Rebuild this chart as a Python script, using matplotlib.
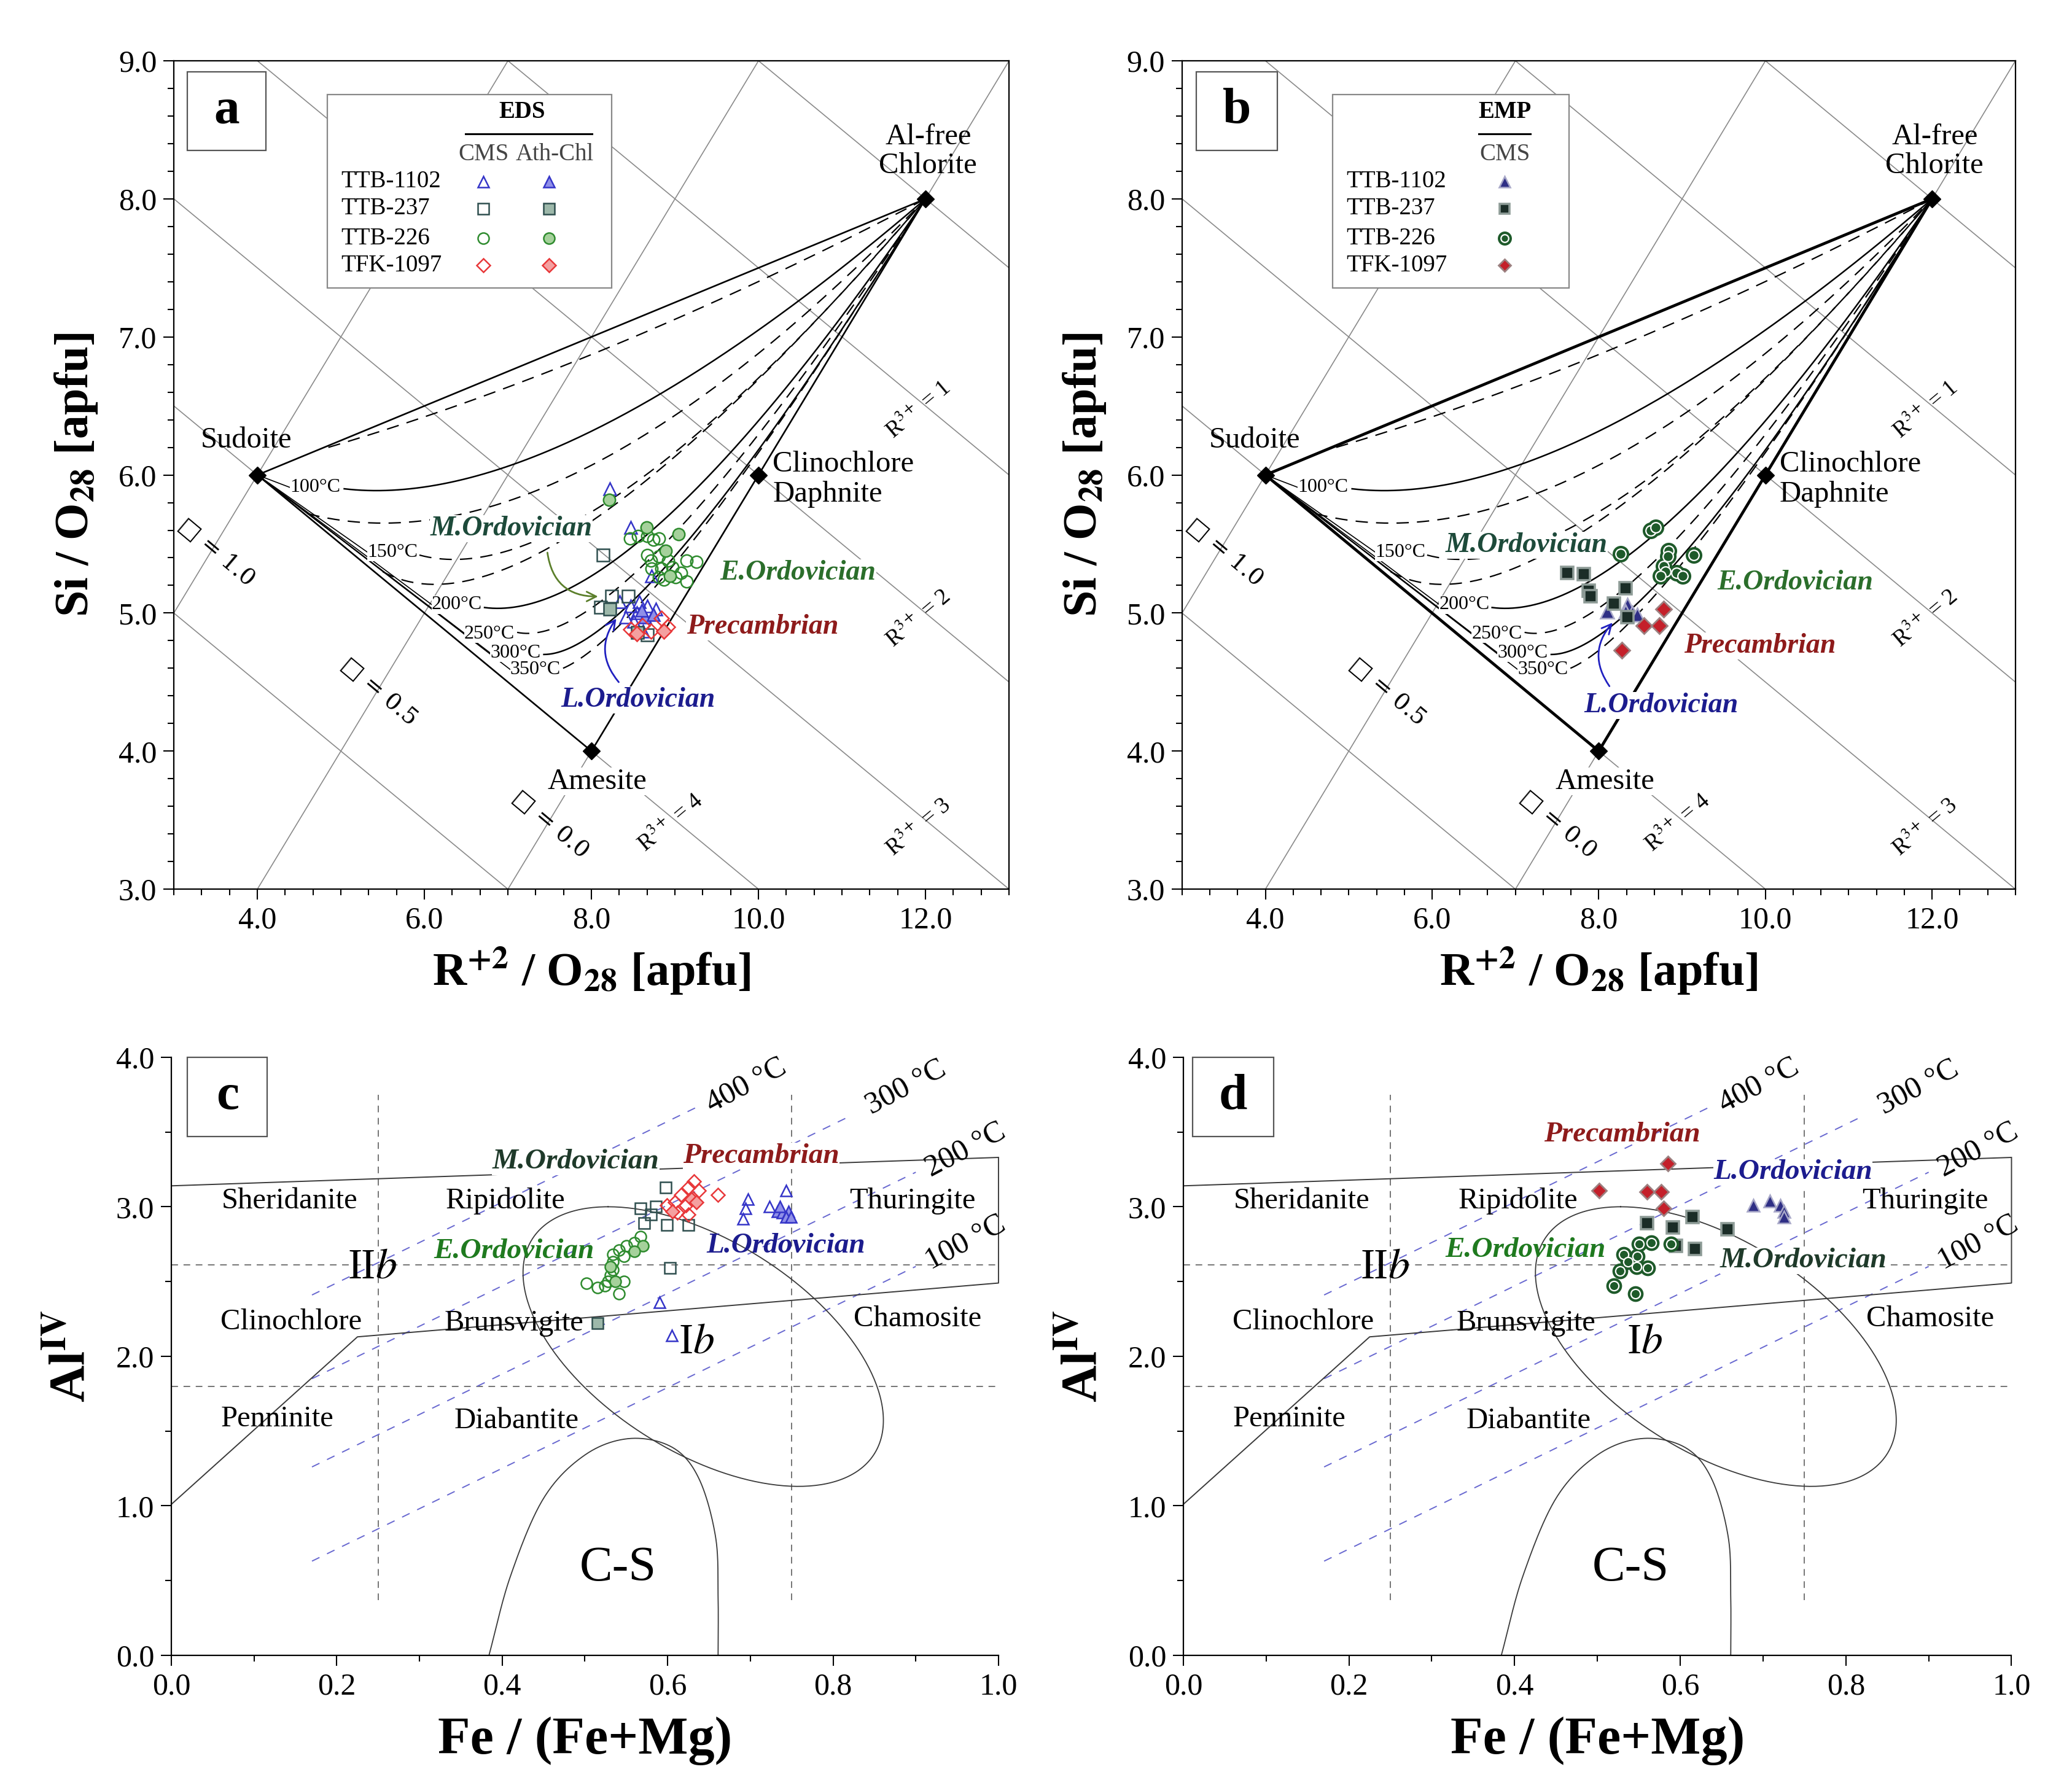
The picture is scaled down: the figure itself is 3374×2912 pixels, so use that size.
import matplotlib
matplotlib.use('Agg')
import matplotlib.pyplot as plt
import numpy as np
from matplotlib.ticker import MultipleLocator, AutoMinorLocator, FormatStrFormatter
from matplotlib.patches import Rectangle

plt.rcParams['font.family'] = ['Liberation Serif', 'DejaVu Serif']
plt.rcParams['mathtext.fontset'] = 'stix'

# ---------------- data: panel a (EDS)  R2+ vs Si ----------------
a_tri_cms_x = [8.22, 8.47, 8.72, 8.34, 8.47, 8.57, 8.67, 8.77, 8.54, 8.41, 8.51, 8.62]
a_tri_cms_y = [5.90, 5.62, 5.27, 5.08, 5.05, 5.08, 5.05, 5.03, 5.00, 4.97, 4.94, 4.87]
a_tri_ath_x = [8.64, 8.74, 8.60]
a_tri_ath_y = [4.97, 4.99, 5.02]
a_sq_cms_x = [8.14, 8.24, 8.44, 8.11, 8.67]
a_sq_cms_y = [5.42, 5.12, 5.12, 5.04, 4.84]
a_sq_ath_x = [8.22, 8.55]
a_sq_ath_y = [5.03, 4.86]
a_cir_cms_x = [8.46, 8.56, 8.67, 8.74, 8.81, 8.67, 8.71, 8.81, 8.92, 8.97, 8.84, 8.72,
               8.81, 9.07, 9.14, 9.26, 9.14, 9.01, 8.87]
a_cir_cms_y = [5.54, 5.56, 5.56, 5.53, 5.54, 5.42, 5.38, 5.41, 5.38, 5.33, 5.32, 5.32,
               5.26, 5.29, 5.38, 5.37, 5.23, 5.26, 5.24]
a_cir_ath_x = [8.21, 8.66, 9.04, 8.89, 8.94]
a_cir_ath_y = [5.82, 5.62, 5.57, 5.45, 5.27]
a_dia_cms_x = [8.47, 8.61, 8.84, 8.91, 8.71]
a_dia_cms_y = [4.88, 4.91, 4.96, 4.90, 4.87]
a_dia_ath_x = [8.87, 8.54]
a_dia_ath_y = [4.87, 4.85]

# ---------------- data: panel b (EMP) ----------------
b_tri_x = [8.10, 8.34, 8.40, 8.46, 8.32]
b_tri_y = [5.01, 5.06, 5.00, 4.99, 5.01]
b_sq_x = [7.62, 7.82, 7.88, 7.90, 8.32, 8.18, 8.34]
b_sq_y = [5.29, 5.28, 5.16, 5.12, 5.18, 5.07, 4.97]
b_cir_x = [8.62, 8.68, 8.26, 8.84, 8.83, 9.14, 8.78, 8.80, 8.93, 9.01, 8.74]
b_cir_y = [5.60, 5.62, 5.43, 5.45, 5.41, 5.42, 5.34, 5.30, 5.29, 5.27, 5.27]
b_dia_x = [8.78, 8.54, 8.73, 8.28]
b_dia_y = [5.03, 4.91, 4.91, 4.73]

# ---------------- data: panel c (EDS)  Fe/(Fe+Mg) vs AlIV ----------------
c_tri_cms_x = [0.697, 0.694, 0.691, 0.743, 0.723, 0.590, 0.605]
c_tri_cms_y = [3.05, 2.99, 2.92, 3.11, 3.00, 2.36, 2.14]
c_tri_ath_x = [0.733, 0.739, 0.746, 0.743, 0.736, 0.749]
c_tri_ath_y = [2.97, 2.96, 2.97, 2.93, 3.00, 2.93]
c_sq_cms_x = [0.598, 0.567, 0.586, 0.580, 0.572, 0.599, 0.625, 0.603]
c_sq_cms_y = [3.13, 2.99, 3.00, 2.95, 2.89, 2.88, 2.88, 2.59]
c_sq_ath_x = [0.515]
c_sq_ath_y = [2.22]
c_cir_cms_x = [0.567, 0.560, 0.550, 0.541, 0.534, 0.547, 0.534, 0.534, 0.531, 0.528,
               0.502, 0.515, 0.524, 0.547, 0.541]
c_cir_cms_y = [2.80, 2.76, 2.74, 2.71, 2.68, 2.67, 2.63, 2.58, 2.54, 2.50,
               2.49, 2.46, 2.47, 2.50, 2.42]
c_cir_ath_x = [0.570, 0.560, 0.537, 0.531]
c_cir_ath_y = [2.74, 2.70, 2.50, 2.60]
c_dia_cms_x = [0.632, 0.625, 0.638, 0.616, 0.609, 0.622, 0.599, 0.612, 0.625, 0.661]
c_dia_cms_y = [3.17, 3.13, 3.11, 3.08, 3.03, 3.01, 3.01, 2.96, 2.95, 3.08]
c_dia_ath_x = [0.629, 0.635, 0.606]
c_dia_ath_y = [3.05, 3.03, 2.97]

# ---------------- data: panel d (EMP) ----------------
d_tri_x = [0.688, 0.708, 0.721, 0.725, 0.725]
d_tri_y = [3.01, 3.04, 3.01, 2.97, 2.93]
d_sq_x = [0.560, 0.591, 0.615, 0.657, 0.595, 0.618]
d_sq_y = [2.89, 2.86, 2.93, 2.85, 2.74, 2.72]
d_cir_x = [0.550, 0.565, 0.589, 0.532, 0.548, 0.537, 0.547, 0.561, 0.527, 0.520, 0.546]
d_cir_y = [2.75, 2.76, 2.75, 2.68, 2.67, 2.63, 2.60, 2.59, 2.57, 2.47, 2.42]
d_dia_x = [0.585, 0.502, 0.560, 0.577, 0.580]
d_dia_y = [3.29, 3.11, 3.10, 3.10, 2.99]

# end members of the R2+-Si diagram
end_x = [4.0, 8.0, 10.0, 12.0]
end_y = [6.0, 4.0, 6.0, 8.0]
r3_values = [0, 1, 2, 3, 4, 5]
vac_values = [0.0, 0.5, 1.0]
samples = ['TTB-1102', 'TTB-237', 'TTB-226', 'TFK-1097']
iso_temps = ['100°C', '150°C', '200°C', '250°C', '300°C', '350°C']
bottom_temps = ['400 °C', '300 °C', '200 °C', '100 °C']

EDS_STYLE = {'tri': ('^', '#3535C8', '#8F8FE8'),
             'sq': ('s', '#2F4F4F', '#9DB8AA'),
             'cir': ('o', '#2E8B2E', '#A5D19B'),
             'dia': ('D', '#E8383A', '#F4A0A0')}
KINDS = ['tri', 'sq', 'cir', 'dia']
C_MORD, C_EORD, C_PREC, C_LORD = '#1D4A3A', '#2B6E2B', '#8E1B1B', '#1C1C8E'


def eds(ax, x, y, kind, filled, ms=14, trans=None, z=6):
    m, ec, fc = EDS_STYLE[kind]
    kw = {} if trans is None else {'transform': trans}
    if kind == 'dia':
        ms = ms - 2
    ax.plot(x, y, m, ls='none', ms=ms, mfc=fc if filled else 'none', mec=ec,
            mew=1.8, zorder=z, clip_on=False, **kw)


def emp(ax, x, y, kind, ms=16, trans=None, z=6):
    kw = {} if trans is None else {'transform': trans}
    if kind == 'tri':
        ax.plot(x, y, '^', ls='none', ms=ms, mfc='#2F2F85', mec='#A8A8C8', mew=1.8, zorder=z, **kw)
    elif kind == 'sq':
        ax.plot(x, y, 's', ls='none', ms=ms - 1, mfc='#1B2D27', mec='#8E9C97', mew=2.6, zorder=z, **kw)
    elif kind == 'cir':
        ax.plot(x, y, 'o', ls='none', ms=ms + 2, mfc='#1E5A2A', mec='#1E5A2A', mew=1.5, zorder=z, **kw)
        ax.plot(x, y, 'o', ls='none', ms=ms - 4, mfc='#1E5A2A', mec='white', mew=1.6, zorder=z, **kw)
    else:
        ax.plot(x, y, 'D', ls='none', ms=ms - 3, mfc='#C4202A', mec='#9C8080', mew=2.0, zorder=z, **kw)


def bezier(x0, y0, xc, yc, x1=12.0, y1=8.0, n=150):
    t = np.linspace(0, 1, n)
    x = (1 - t) ** 2 * x0 + 2 * t * (1 - t) * xc + t ** 2 * x1
    y = (1 - t) ** 2 * y0 + 2 * t * (1 - t) * yc + t ** 2 * y1
    return x, y


def catmull(xs, ys, n=25):
    pts = np.column_stack([xs, ys])
    pad = np.vstack([2 * pts[0] - pts[1], pts, 2 * pts[-1] - pts[-2]])
    out = []
    t = np.linspace(0, 1, n, endpoint=False)[:, None]
    for i in range(1, len(pad) - 2):
        p0, p1, p2, p3 = pad[i - 1], pad[i], pad[i + 1], pad[i + 2]
        out.append(0.5 * (2 * p1 + (-p0 + p2) * t + (2 * p0 - 5 * p1 + 4 * p2 - p3) * t ** 2
                          + (-p0 + 3 * p1 - 3 * p2 + p3) * t ** 3))
    out.append(pts[-1:])
    out = np.vstack(out)
    return out[:, 0], out[:, 1]


def panel_box(ax, letter, x0, y0, w, h):
    ax.add_patch(Rectangle((x0, y0), w, h, transform=ax.transAxes, fc='white',
                           ec='#555555', lw=1.6, zorder=7, clip_on=False))
    ax.text(x0 + w / 2, y0 + h / 2, letter, transform=ax.transAxes, ha='center', va='center',
            fontsize=60, fontweight='bold', zorder=8)


def age_label(ax, x, y, s, color, bg=True, fs=33):
    kw = dict(bbox=dict(fc='white', ec='none', pad=0.5)) if bg else {}
    ax.text(x, y, s, color=color, fontsize=fs, fontstyle='italic', fontweight='bold',
            ha='center', va='center', zorder=5, **kw)


def draw_top(ax, heavy):
    ax.set_xlim(3, 13)
    ax.set_ylim(3, 9)
    xx = np.array([3.0, 13.0])
    for r in r3_values:
        ax.plot(xx, 14 - 1.5 * r - 0.5 * xx, color='#8a8a8a', lw=1.2, zorder=1)
    for v in vac_values:
        ax.plot(xx, xx - 4 + 6 * v, color='#8a8a8a', lw=1.2, zorder=1)
    # isotherm family converging on Al-free chlorite
    curves = [(4.85, 6.20, 8.2, 6.80, False),
              (5.04, 5.90, 7.6, 5.72, True),
              (4.60, 5.72, 7.6, 5.25, False),
              (5.94, 5.42, 7.9, 5.10, False),
              (5.50, 5.30, 7.3, 4.70, False),
              (6.72, 5.04, 8.5, 4.90, True),
              (7.11, 4.86, 8.4, 4.70, False),
              (7.43, 4.70, 8.6, 4.70, True),
              (7.66, 4.60, 8.8, 4.90, False)]
    for x0, y0, xc, yc, solid in curves:
        cx, cy = bezier(x0, y0, xc, yc)
        if solid:
            ax.plot(cx, cy, color='black', lw=1.8, zorder=2)
        else:
            ax.plot(cx, cy, color='black', lw=1.6, dashes=(9, 6), zorder=2)
    lab_x = [4.69, 5.62, 6.39, 6.78, 7.09, 7.33]
    lab_y = [5.91, 5.44, 5.06, 4.85, 4.71, 4.59]
    for s, lx, ly in zip(iso_temps, lab_x, lab_y):
        ax.plot([4.0, lx - 0.30], [6.0, ly], color='black', lw=1.2, zorder=2)
        ax.text(lx, ly, s, fontsize=23, ha='center', va='center', zorder=4,
                bbox=dict(fc='white', ec='none', pad=0.3))
    lw = 3.4 if heavy else 1.9
    ax.plot([end_x[0], end_x[3]], [end_y[0], end_y[3]], color='black', lw=lw, zorder=3)
    ax.plot([end_x[0], end_x[1]], [end_y[0], end_y[1]], color='black', lw=lw, zorder=3)
    ax.plot([end_x[1], end_x[3]], [end_y[1], end_y[3]], color='black', lw=lw, zorder=3)
    ax.plot(end_x, end_y, 'D', ls='none', color='black', ms=14, zorder=4)
    ax.text(3.87, 6.25, 'Sudoite', fontsize=35, ha='center', va='center')
    ax.text(8.07, 3.78, 'Amesite', fontsize=35, ha='center', va='center', zorder=4,
            bbox=dict(fc='white', ec='none', pad=0.2))
    ax.text(10.17, 6.08, 'Clinochlore', fontsize=35, ha='left', va='center')
    ax.text(10.17, 5.86, 'Daphnite', fontsize=35, ha='left', va='center')
    ax.text(12.03, 8.45, 'Al-free', fontsize=35, ha='center', va='center')
    ax.text(12.03, 8.24, 'Chlorite', fontsize=35, ha='center', va='center')
    for i, (rx, ry) in enumerate([(11.92, 6.47), (11.92, 4.96), (11.92, 3.45), (8.95, 3.48)]):
        ax.text(rx, ry, r'R$^{3+}$ = %d' % (i + 1), fontsize=27, rotation=40,
                ha='center', va='center', rotation_mode='anchor')
    for v, (vx, vy) in zip([1.0, 0.5, 0.0], [(3.51, 5.44), (5.46, 4.43), (7.51, 3.47)]):
        ax.text(vx, vy, '\u25a1 = %.1f' % v, fontsize=27, rotation=-40,
                ha='center', va='center', rotation_mode='anchor',
                family=['DejaVu Serif', 'Liberation Serif'])
    ax.xaxis.set_major_locator(MultipleLocator(2))
    ax.xaxis.set_minor_locator(AutoMinorLocator(6))
    ax.yaxis.set_major_locator(MultipleLocator(1))
    ax.yaxis.set_minor_locator(AutoMinorLocator(5))
    ax.xaxis.set_major_formatter(FormatStrFormatter('%.1f'))
    ax.yaxis.set_major_formatter(FormatStrFormatter('%.1f'))
    ax.set_xlabel(r'R$^{\mathbf{+2}}$ / O$_{\mathbf{28}}$ [apfu]', fontsize=55,
                  fontweight='bold', labelpad=12)
    ax.set_ylabel(r'Si / O$_{\mathbf{28}}$ [apfu]', fontsize=56, fontweight='bold', labelpad=22)


def draw_bottom(ax, ib_x):
    ax.set_xlim(0, 1)
    ax.set_ylim(0, 4)
    lc = '#3a3a3a'
    ax.plot([0, 1.0], [3.14, 3.33], color=lc, lw=1.4, zorder=2)
    ax.plot([1.0, 1.0, 0.225, 0.0], [3.33, 2.49, 2.13, 1.01], color=lc, lw=1.4,
            zorder=2, clip_on=False)
    for xv in (0.25, 0.75):
        ax.plot([xv, xv], [0.37, 3.75], color='#6a6a6a', lw=1.3, dashes=(6, 5), zorder=1)
    for yv in (2.61, 1.80):
        ax.plot([0, 1], [yv, yv], color='#6a6a6a', lw=1.3, dashes=(6, 5), zorder=1)
    th = np.linspace(0, 2 * np.pi, 300)
    ax.plot(0.643 - 0.115 * np.cos(th) + 0.185 * np.sin(th), 2.065 + 0.935 * np.cos(th),
            color=lc, lw=1.3, zorder=2)
    csx, csy = catmull([0.384, 0.41, 0.45, 0.50, 0.554, 0.606, 0.638, 0.658, 0.661, 0.661],
                       [0.0, 0.53, 1.05, 1.34, 1.45, 1.39, 1.18, 0.79, 0.39, 0.0])
    ax.plot(csx, csy, color=lc, lw=1.3, zorder=2)
    # temperature lines
    starts = [2.41, 1.85, 1.26, 0.63]
    ends = [0.64, 0.82, 0.90, 0.90]
    lab = [(0.695, 3.81), (0.888, 3.80), (0.960, 3.38), (0.960, 2.76)]
    for s, y0, xe, (tx, ty) in zip(bottom_temps, starts, ends, lab):
        ax.plot([0.17, xe], [y0, y0 + 2.7 * (xe - 0.17)], color='#6868D0', lw=1.4,
                dashes=(7, 7), zorder=1)
        ax.text(tx, ty, s, fontsize=36, rotation=28, ha='center', va='center',
                rotation_mode='anchor', zorder=4)
    for s, x, y in [('Sheridanite', 0.143, 3.04), ('Ripidolite', 0.404, 3.04),
                    ('Thuringite', 0.896, 3.04), ('Clinochlore', 0.145, 2.23),
                    ('Brunsvigite', 0.414, 2.22), ('Chamosite', 0.902, 2.25),
                    ('Penninite', 0.128, 1.58), ('Diabantite', 0.417, 1.57)]:
        ax.text(x, y, s, fontsize=35, ha='center', va='center', zorder=3)
    ax.text(0.243, 2.59, r'II$\mathit{b}$', fontsize=50, ha='center', va='center', zorder=3)
    ax.text(ib_x, 2.09, r'I$\mathit{b}$', fontsize=50, ha='center', va='center', zorder=3)
    ax.text(0.54, 0.58, 'C-S', fontsize=58, ha='center', va='center', zorder=3)
    for sp in ('top', 'right'):
        ax.spines[sp].set_visible(False)
    ax.xaxis.set_major_locator(MultipleLocator(0.2))
    ax.xaxis.set_minor_locator(MultipleLocator(0.1))
    ax.yaxis.set_major_locator(MultipleLocator(1))
    ax.yaxis.set_minor_locator(MultipleLocator(0.5))
    ax.xaxis.set_major_formatter(FormatStrFormatter('%.1f'))
    ax.yaxis.set_major_formatter(FormatStrFormatter('%.1f'))
    ax.set_xlabel('Fe / (Fe+Mg)', fontsize=62, fontweight='bold', labelpad=18)
    ax.set_ylabel(r'Al$^{\mathbf{IV}}$', fontsize=60, fontweight='bold', labelpad=24)


def style_ticks(ax):
    ax.tick_params(which='both', direction='out', width=1.5, labelsize=36, pad=8,
                   top=False, right=False)
    ax.tick_params(which='major', length=12)
    ax.tick_params(which='minor', length=7)
    for sp in ax.spines.values():
        sp.set_linewidth(1.6)


fig = plt.figure(figsize=(33.74, 29.12), dpi=100)
ax_a = fig.add_axes([0.0839, 0.5027, 0.4031, 0.4633])
ax_b = fig.add_axes([0.5705, 0.5027, 0.4022, 0.4633])
ax_c = fig.add_axes([0.0827, 0.0742, 0.3992, 0.3345])
ax_d = fig.add_axes([0.5711, 0.0742, 0.3997, 0.3345])

# ---------------- panel a ----------------
draw_top(ax_a, heavy=False)
for kind, xs, ys, f in [('tri', a_tri_cms_x, a_tri_cms_y, False), ('tri', a_tri_ath_x, a_tri_ath_y, True),
                        ('sq', a_sq_cms_x, a_sq_cms_y, False), ('sq', a_sq_ath_x, a_sq_ath_y, True),
                        ('cir', a_cir_cms_x, a_cir_cms_y, False), ('cir', a_cir_ath_x, a_cir_ath_y, True),
                        ('dia', a_dia_cms_x, a_dia_cms_y, False), ('dia', a_dia_ath_x, a_dia_ath_y, True)]:
    eds(ax_a, xs, ys, kind, f)
age_label(ax_a, 7.04, 5.61, 'M.Ordovician', C_MORD)
age_label(ax_a, 10.47, 5.29, 'E.Ordovician', C_EORD)
age_label(ax_a, 10.05, 4.90, 'Precambrian', C_PREC)
age_label(ax_a, 8.56, 4.37, 'L.Ordovician', C_LORD)
ax_a.annotate('', xy=(8.10, 5.12), xytext=(7.47, 5.45), zorder=5,
              arrowprops=dict(arrowstyle='->', color='#5B7F2B', lw=2,
                              connectionstyle='arc3,rad=0.45', mutation_scale=28))
ax_a.annotate('', xy=(8.31, 4.97), xytext=(8.34, 4.49), zorder=5,
              arrowprops=dict(arrowstyle='->', color='#2020C0', lw=2,
                              connectionstyle='arc3,rad=-0.4', mutation_scale=28))
# legend a
ax_a.add_patch(Rectangle((0.184, 0.7255), 0.340, 0.234, transform=ax_a.transAxes,
                         fc='white', ec='#888888', lw=1.6, zorder=6))
ax_a.text(0.417, 0.938, 'EDS', transform=ax_a.transAxes, fontsize=28, fontweight='bold',
          ha='center', va='center', zorder=7)
ax_a.plot([0.349, 0.501], [0.912, 0.912], transform=ax_a.transAxes, color='black', lw=2.2, zorder=7)
ax_a.text(0.3706, 0.887, 'CMS', transform=ax_a.transAxes, fontsize=28, color='#444444',
          ha='center', va='center', zorder=7)
ax_a.text(0.456, 0.887, 'Ath-Chl', transform=ax_a.transAxes, fontsize=28, color='#444444',
          ha='center', va='center', zorder=7)
for s, kind, fy in zip(samples, KINDS, [0.854, 0.8215, 0.7856, 0.753]):
    ax_a.text(0.2003, fy, s, transform=ax_a.transAxes, fontsize=28, ha='left', va='center', zorder=7)
    eds(ax_a, [0.3706], [fy], kind, False, ms=13, trans=ax_a.transAxes, z=8)
    eds(ax_a, [0.4495], [fy], kind, True, ms=13, trans=ax_a.transAxes, z=8)
panel_box(ax_a, 'a', 0.016, 0.892, 0.094, 0.095)

# ---------------- panel b ----------------
draw_top(ax_b, heavy=True)
for kind, xs, ys in [('tri', b_tri_x, b_tri_y), ('sq', b_sq_x, b_sq_y),
                     ('cir', b_cir_x, b_cir_y), ('dia', b_dia_x, b_dia_y)]:
    emp(ax_b, xs, ys, kind)
age_label(ax_b, 7.13, 5.49, 'M.Ordovician', C_MORD)
age_label(ax_b, 10.36, 5.22, 'E.Ordovician', C_EORD)
age_label(ax_b, 9.93, 4.76, 'Precambrian', C_PREC)
age_label(ax_b, 8.75, 4.33, 'L.Ordovician', C_LORD)
ax_b.annotate('', xy=(8.18, 4.94), xytext=(8.14, 4.46), zorder=5,
              arrowprops=dict(arrowstyle='->', color='#2020C0', lw=2,
                              connectionstyle='arc3,rad=-0.4', mutation_scale=28))
ax_b.add_patch(Rectangle((0.181, 0.7255), 0.2835, 0.234, transform=ax_b.transAxes,
                         fc='white', ec='#888888', lw=1.6, zorder=6))
ax_b.text(0.387, 0.938, 'EMP', transform=ax_b.transAxes, fontsize=28, fontweight='bold',
          ha='center', va='center', zorder=7)
ax_b.plot([0.356, 0.418], [0.912, 0.912], transform=ax_b.transAxes, color='black', lw=2.2, zorder=7)
ax_b.text(0.387, 0.887, 'CMS', transform=ax_b.transAxes, fontsize=28, color='#444444',
          ha='center', va='center', zorder=7)
for s, kind, fy in zip(samples, KINDS, [0.854, 0.8215, 0.7856, 0.753]):
    ax_b.text(0.197, fy, s, transform=ax_b.transAxes, fontsize=28, ha='left', va='center', zorder=7)
    emp(ax_b, [0.387], [fy], kind, ms=13, trans=ax_b.transAxes, z=8)
panel_box(ax_b, 'b', 0.017, 0.892, 0.097, 0.095)

# ---------------- panel c ----------------
draw_bottom(ax_c, 0.635)
for kind, xs, ys, f in [('tri', c_tri_cms_x, c_tri_cms_y, False), ('tri', c_tri_ath_x, c_tri_ath_y, True),
                        ('sq', c_sq_cms_x, c_sq_cms_y, False), ('sq', c_sq_ath_x, c_sq_ath_y, True),
                        ('cir', c_cir_cms_x, c_cir_cms_y, False), ('cir', c_cir_ath_x, c_cir_ath_y, True),
                        ('dia', c_dia_cms_x, c_dia_cms_y, False), ('dia', c_dia_ath_x, c_dia_ath_y, True)]:
    eds(ax_c, xs, ys, kind, f, ms=13)
age_label(ax_c, 0.489, 3.30, 'M.Ordovician', '#1F3A2A', fs=34)
age_label(ax_c, 0.713, 3.34, 'Precambrian', C_PREC, fs=34)
age_label(ax_c, 0.414, 2.70, 'E.Ordovician', '#1F7A1F', bg=False, fs=34)
age_label(ax_c, 0.743, 2.74, 'L.Ordovician', C_LORD, bg=False, fs=34)
panel_box(ax_c, 'c', 0.0195, 0.867, 0.0965, 0.133)

# ---------------- panel d ----------------
draw_bottom(ax_d, 0.557)
for kind, xs, ys in [('tri', d_tri_x, d_tri_y), ('sq', d_sq_x, d_sq_y),
                     ('cir', d_cir_x, d_cir_y), ('dia', d_dia_x, d_dia_y)]:
    emp(ax_d, xs, ys, kind, ms=15)
age_label(ax_d, 0.530, 3.48, 'Precambrian', C_PREC, bg=False, fs=34)
age_label(ax_d, 0.736, 3.23, 'L.Ordovician', C_LORD, fs=34)
age_label(ax_d, 0.413, 2.71, 'E.Ordovician', '#1F7A1F', bg=False, fs=34)
age_label(ax_d, 0.749, 2.64, 'M.Ordovician', '#1F3A2A', fs=34)
panel_box(ax_d, 'd', 0.011, 0.867, 0.098, 0.133)

for ax in (ax_a, ax_b, ax_c, ax_d):
    style_ticks(ax)

fig.savefig('out.png', dpi=100)
